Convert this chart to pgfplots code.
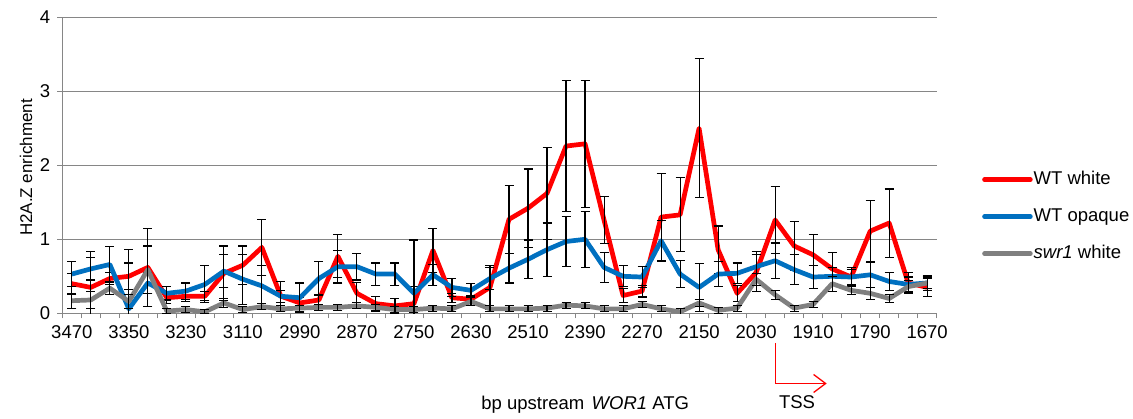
\documentclass[border=0pt]{standalone}
\usepackage{pgfplots}
\pgfplotsset{compat=1.18}
\usepackage{pgfplotstable}
\usepackage{fontspec}
\setmainfont{Liberation Sans}
\usetikzlibrary{arrows.meta}

\definecolor{wtwhite}{RGB}{255,0,0}
\definecolor{wtopaque}{RGB}{0,112,192}
\definecolor{swrgray}{RGB}{128,128,128}
\definecolor{axisgray}{RGB}{134,134,134}

% k = category index (0 = 3470 bp ... 45 = 1670 bp, 40 bp steps), y = enrichment, e = error
\pgfplotstableread{
k y e
0 0.40 0.14
1 0.35 0.48
2 0.47 0.08
3 0.50 0.18
4 0.62 0.53
5 0.21 0.08
6 0.23 0.07
7 0.23 0.06
8 0.54 0.37
9 0.65 0.26
10 0.89 0.38
11 0.23 0.20
12 0.14 0.08
13 0.18 0.08
14 0.77 0.29
15 0.27 0.15
16 0.13 0.10
17 0.10 0.10
18 0.13 0.23
19 0.85 0.30
20 0.21 0.06
21 0.19 0.05
22 0.35 0.30
23 1.27 0.46
24 1.42 0.53
25 1.62 0.62
26 2.26 0.88
27 2.29 0.86
28 1.26 0.32
29 0.24 0.09
30 0.30 0.08
31 1.30 0.59
32 1.33 0.50
33 2.50 0.94
34 0.86 0.32
35 0.27 0.11
36 0.55 0.25
37 1.26 0.45
38 0.91 0.33
39 0.79 0.28
40 0.60 0.22
41 0.49 0.13
42 1.11 0.41
43 1.22 0.46
44 0.41 0.14
45 0.35 0.12
}\tabwhite

\pgfplotstableread{
k y e
0 0.53 0.17
1 0.60 0.15
2 0.66 0.24
3 0.06 0.80
4 0.41 0.14
5 0.27 0.09
6 0.30 0.11
7 0.39 0.25
8 0.57 0.22
9 0.46 0.34
10 0.37 0.28
11 0.23 0.08
12 0.21 0.20
13 0.47 0.23
14 0.63 0.22
15 0.63 0.18
16 0.53 0.15
17 0.53 0.15
18 0.27 0.72
19 0.52 0.14
20 0.35 0.12
21 0.31 0.09
22 0.47 0.15
23 0.61 0.20
24 0.73 0.26
25 0.86 0.36
26 0.97 0.34
27 1.00 0.38
28 0.62 0.20
29 0.50 0.14
30 0.49 0.14
31 0.98 0.28
32 0.53 0.18
33 0.35 0.32
34 0.53 0.17
35 0.54 0.14
36 0.63 0.20
37 0.71 0.24
38 0.59 0.20
39 0.49 0.16
40 0.50 0.12
41 0.49 0.10
42 0.52 0.17
43 0.43 0.12
44 0.39 0.10
45 0.41 0.10
}\tabopaque

\pgfplotstableread{
k y e
0 0.17 0.10
1 0.18 0.12
2 0.34 0.09
3 0.16 0.10
4 0.59 0.32
5 0.03 0.04
6 0.05 0.04
7 0.02 0.03
8 0.14 0.06
9 0.05 0.04
10 0.09 0.04
11 0.06 0.04
12 0.07 0.04
13 0.08 0.04
14 0.08 0.04
15 0.10 0.04
16 0.08 0.04
17 0.05 0.04
18 0.05 0.04
19 0.07 0.04
20 0.06 0.04
21 0.16 0.05
22 0.06 0.04
23 0.06 0.04
24 0.06 0.04
25 0.07 0.04
26 0.11 0.04
27 0.10 0.04
28 0.06 0.04
29 0.06 0.04
30 0.12 0.04
31 0.06 0.04
32 0.02 0.04
33 0.14 0.05
34 0.04 0.04
35 0.07 0.04
36 0.46 0.08
37 0.25 0.06
38 0.07 0.04
39 0.12 0.04
40 0.40 0.10
41 0.31 0.06
42 0.27 0.08
43 0.20 0.05
44 0.36 0.08
45 0.41 0.08
}\tabswr

\begin{document}
\begin{tikzpicture}[font=\fontsize{18.5}{22}\selectfont]
\useasboundingbox (0,0) rectangle (1133pt,419pt);
\begin{axis}[
  at={(62.3pt,105.7pt)}, anchor=south west,
  scale only axis, width=874.4pt, height=296pt,
  xmin=-0.5, xmax=45.5, ymin=0, ymax=4,
  axis x line*=bottom, axis y line*=left,
  axis line style={axisgray, line width=0.9pt},
  tick align=outside, major tick length=5pt,
  tick style={axisgray, line width=0.9pt},
  xtick={-0.5,0.5,...,45.5}, xticklabels={},
  extra x ticks={0,3,...,45},
  extra x tick labels={3470,3350,3230,3110,2990,2870,2750,2630,2510,2390,2270,2150,2030,1910,1790,1670},
  extra x tick style={major tick length=0pt, tick label style={yshift=-9pt}},
  ytick={0,1,2,3,4},
  yticklabel style={xshift=-3.5pt},
  ymajorgrids, grid style={axisgray, line width=0.9pt},
  /pgf/number format/assume math mode=true,
  ylabel={H2A.Z enrichment},
  ylabel style={at={(axis description cs:-0.0415,0.4926)}, anchor=center,
    font=\fontsize{17}{20}\selectfont},
  xlabel={bp upstream\hspace{0.4em}\textit{WOR1} ATG},
  xlabel style={at={(axis description cs:0.598,-0.31)}, anchor=center},
  legend style={at={(1.0518,0.3264)}, anchor=west, draw=none, fill=none,
    inner sep=0pt, row sep=17pt,
    nodes={inner sep=1pt, text height=14pt, text depth=4pt}},
  legend cell align=left,
  legend image code/.code={\draw[#1, line width=4.5pt, line cap=round] (0pt,0pt) -- (46pt,0pt);},
]
\addplot[wtwhite, line width=4.7pt, line join=round,
  error bars/.cd, y dir=both, y explicit,
  error bar style={black, line width=1.1pt},
  error mark options={rotate=90, black, line width=1.1pt, mark size=4.5pt}]
  table[x=k, y=y, y error=e] {\tabwhite};
\addlegendentry{WT white}
\addplot[wtopaque, line width=4.7pt, line join=round,
  error bars/.cd, y dir=both, y explicit,
  error bar style={black, line width=1.1pt},
  error mark options={rotate=90, black, line width=1.1pt, mark size=4.5pt}]
  table[x=k, y=y, y error=e] {\tabopaque};
\addlegendentry{WT opaque}
\addplot[swrgray, line width=4.7pt, line join=round,
  error bars/.cd, y dir=both, y explicit,
  error bar style={black, line width=1.1pt},
  error mark options={rotate=90, black, line width=1.1pt, mark size=4.5pt}]
  table[x=k, y=y, y error=e] {\tabswr};
\addlegendentry{\textit{swr1} white}
\end{axis}
% TSS marker below the axis
\draw[wtwhite, line width=1.3pt, -{Straight Barb[length=12pt,width=18pt]}]
  (775.7pt,76pt) -- (775.7pt,35.5pt) -- (826.7pt,35.5pt);
\node at (797pt,17pt) {TSS};
\end{tikzpicture}
\end{document}
